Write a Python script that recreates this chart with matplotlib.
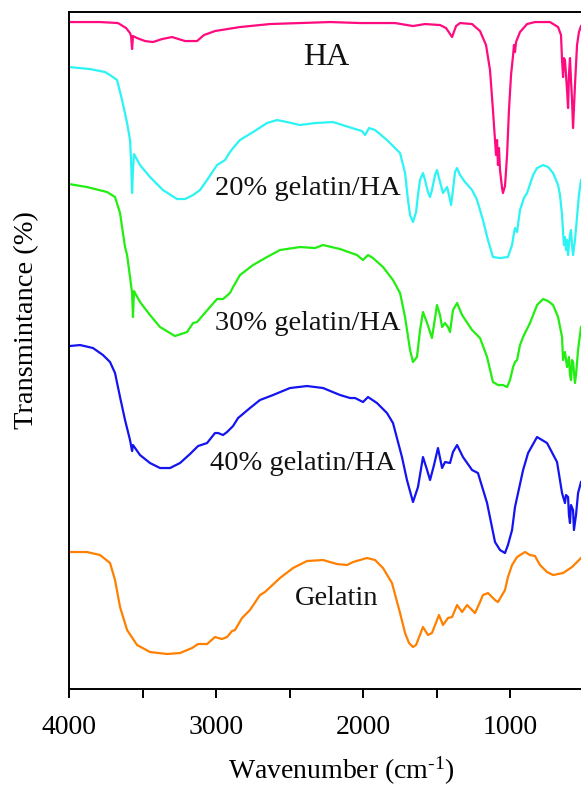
import matplotlib
matplotlib.use("Agg")
import matplotlib.pyplot as plt
from matplotlib.ticker import MultipleLocator

plt.rcParams["font.family"] = "Liberation Serif"
plt.rcParams["mathtext.fontset"] = "custom"
plt.rcParams["mathtext.rm"] = "Liberation Serif"
plt.rcParams["mathtext.it"] = "Liberation Serif:italic"

# FTIR spectra, wavenumber (cm-1) vs transmittance (arbitrary, stacked)
ha_wn = [4000, 3789, 3667, 3612, 3585, 3578, 3571, 3565, 3537, 3483, 3429, 3367, 3299,
         3211, 3129, 3082, 3007, 2837, 2633, 2429, 2224, 2020, 1782, 1660, 1578, 1476,
         1435, 1394, 1367, 1340, 1258, 1204, 1163, 1136, 1116, 1102, 1095, 1088, 1082,
         1075, 1068, 1054, 1048, 1034, 1020, 1007, 993, 979, 973, 966, 959, 932, 884,
         830, 728, 673, 653, 646, 639, 633, 626, 619, 612, 605, 599, 592, 585, 578, 571,
         558, 544, 531, 517]
ha_t = [667, 667, 666, 661, 656, 653, 640, 653, 651, 648, 647, 650, 652,
        648, 648, 654, 658, 662, 665, 666, 667, 666, 666, 663, 665, 664,
        661, 652, 663, 666, 665, 658, 644, 619, 579, 549, 534, 549, 524,
        541, 519, 501, 496, 503, 534, 579, 614, 634, 644, 637, 647, 657, 665,
        667, 667, 662, 654, 629, 612, 631, 629, 614, 599, 581, 614, 631, 609, 589, 561,
        604, 644, 657, 663]

g20_wn = [4000, 3857, 3755, 3721, 3673, 3639, 3605, 3585, 3578, 3571, 3565, 3558, 3517,
          3449, 3361, 3265, 3211, 3156, 3109, 3061, 2993, 2939, 2905, 2884, 2837, 2748,
          2653, 2585, 2517, 2429, 2326, 2204, 2075, 2007, 1986, 1959, 1918, 1837, 1748,
          1714, 1694, 1680, 1660, 1639, 1626, 1612, 1592, 1578, 1558, 1544, 1531, 1510,
          1497, 1483, 1456, 1442, 1428, 1415, 1401, 1388, 1374, 1360, 1340, 1306, 1258,
          1224, 1184, 1150, 1116, 1068, 1014, 986, 973, 966, 952, 932, 905, 884, 843,
          816, 775, 741, 707, 673, 660, 646, 639, 633, 626, 619, 612, 605, 599, 592,
          585, 578, 571, 558, 544, 531, 517]
g20_t = [622, 620, 617, 614, 609, 589, 566, 549, 529, 496, 519, 535, 524,
         512, 499, 490, 490, 494, 499, 509, 524, 529, 537, 541, 549, 557,
         566, 569, 567, 564, 566, 567, 561, 558, 554, 561, 559, 549, 536,
         516, 489, 474, 467, 477, 494, 509, 516, 509, 497, 492, 499, 514,
         519, 511, 496, 499, 502, 494, 484, 499, 517, 521, 514, 507, 499,
         489, 469, 449, 432, 431, 432, 444, 456, 461, 457, 479, 491, 496, 514,
         521, 524, 522, 516, 504, 494, 474, 457, 444, 452, 439, 449, 434, 444, 454,
         459, 444, 434, 449, 472, 494, 509]

g30_wn = [4000, 3878, 3741, 3687, 3653, 3619, 3605, 3585, 3571, 3565, 3558, 3517, 3449,
          3381, 3279, 3197, 3156, 3129, 3041, 2993, 2952, 2905, 2884, 2837, 2748, 2653,
          2565, 2429, 2326, 2272, 2156, 2041, 2000, 1966, 1932, 1864, 1796, 1748, 1714,
          1680, 1660, 1633, 1612, 1592, 1564, 1531, 1510, 1497, 1476, 1462, 1442, 1422,
          1408, 1388, 1360, 1326, 1258, 1204, 1156, 1116, 1082, 1048, 1020, 1000, 979,
          966, 952, 932, 911, 864, 816, 775, 741, 707, 673, 646, 639, 626, 612, 599,
          592, 585, 578, 571, 558, 551, 537, 517]
g30_t = [505, 502, 497, 492, 476, 442, 434, 412, 396, 372, 398, 387, 374,
         362, 353, 357, 366, 367, 382, 390, 390, 396, 402, 414, 424, 432,
         439, 442, 441, 444, 440, 434, 429, 434, 431, 422, 409, 396, 372,
         339, 327, 332, 359, 377, 366, 351, 371, 384, 374, 362, 366, 362,
         357, 379, 386, 374, 359, 351, 332, 307, 304, 304, 302, 309, 322,
         327, 329, 344, 352, 366, 384, 390, 388, 384, 372, 352, 329, 337, 322, 332,
         314, 309, 329, 327, 306, 314, 339, 362]

g40_wn = [4000, 3993, 3925, 3837, 3769, 3721, 3687, 3653, 3619, 3585, 3571, 3565, 3517,
          3449, 3381, 3313, 3245, 3177, 3122, 3061, 3007, 2986, 2952, 2925, 2884, 2850,
          2769, 2701, 2612, 2497, 2381, 2272, 2156, 2088, 2054, 2000, 1966, 1905, 1837,
          1796, 1735, 1701, 1660, 1626, 1592, 1564, 1544, 1517, 1490, 1462, 1442, 1408,
          1388, 1360, 1320, 1258, 1218, 1156, 1102, 1068, 1034, 1014, 986, 966, 911,
          877, 816, 748, 680, 646, 626, 619, 605, 599, 592, 585, 571, 565, 551, 537, 517]
g40_t = [344, 343, 344, 341, 334, 327, 316, 292, 269, 249, 238, 244, 234,
         226, 221, 221, 226, 235, 243, 246, 256, 256, 254, 257, 263, 271,
         281, 289, 294, 301, 303, 301, 294, 291, 291, 287, 292, 286, 276,
         266, 232, 209, 187, 202, 232, 219, 209, 224, 241, 221, 227, 226,
         237, 244, 232, 219, 216, 186, 147, 139, 136, 144, 159, 182, 219,
         236, 252, 246, 227, 196, 186, 194, 192, 174, 166, 184, 179, 159, 174, 196, 207]

gel_wn = [4000, 3878, 3789, 3721, 3687, 3653, 3605, 3537, 3449, 3333, 3245, 3163, 3122,
          3061, 3007, 2959, 2925, 2891, 2871, 2823, 2769, 2701, 2667, 2565, 2476, 2381,
          2272, 2177, 2109, 2068, 1973, 1918, 1864, 1803, 1748, 1714, 1687, 1660, 1639,
          1626, 1592, 1558, 1531, 1483, 1456, 1422, 1394, 1360, 1326, 1292, 1238, 1204,
          1184, 1150, 1102, 1082, 1034, 1014, 986, 952, 898, 864, 830, 796, 748, 707,
          639, 578, 517]
gel_t = [137, 137, 134, 126, 109, 82, 59, 44, 37, 35, 36, 41, 45,
         45, 52, 50, 52, 58, 59, 71, 79, 94, 97, 111, 121, 128,
         129, 125, 124, 127, 131, 129, 121, 106, 76, 56, 46, 42, 44,
         49, 62, 54, 56, 74, 64, 71, 72, 84, 77, 84, 76, 87,
         94, 96, 89, 87, 99, 112, 124, 132, 137, 134, 133, 124, 117, 114,
         116, 122, 131]

series = [
    (ha_wn, ha_t, "#ff0a7f"),
    (g20_wn, g20_t, "#2cf4f4"),
    (g30_wn, g30_t, "#22ee11"),
    (g40_wn, g40_t, "#1414f0"),
    (gel_wn, gel_t, "#ff8000"),
]

labels = ["HA", "20% gelatin/HA", "30% gelatin/HA", "40% gelatin/HA", "Gelatin"]
label_wn = [2408, 3007, 3007, 3041, 2463]
label_t = [624, 494, 359, 219, 84]
label_size = [23, 20.5, 20.5, 20.5, 20.5]

fig = plt.figure(figsize=(5.81, 7.87), dpi=100)
ax = fig.add_axes([0.1188, 0.1245, 0.8855, 0.8602])

for wn, t, color in series:
    ax.plot(wn, t, color=color, lw=1.6)

for text, x, y, size in zip(labels, label_wn, label_t, label_size):
    ax.text(x, y, text, fontsize=size, ha="left", va="baseline", color="#111111")

ax.set_xlim(4000, 500)
ax.set_ylim(0, 677)
ax.set_xticks([4000, 3000, 2000, 1000])
ax.xaxis.set_minor_locator(MultipleLocator(500))
ax.tick_params(axis="x", which="both", direction="out", length=6.5, width=1.4,
               labelsize=20, pad=12)
ax.set_yticks([])
for side in ["left", "top", "bottom"]:
    ax.spines[side].set_linewidth(1.4)
ax.spines["right"].set_visible(False)

ax.set_xlabel(r"Wavenumber (cm$^{\text{-}1}$)", fontsize=20)
ax.xaxis.set_label_coords(0.529, -0.097)
ax.set_ylabel("Transmintance (%)", fontsize=20.5)
ax.yaxis.set_label_coords(-0.058, 0.545)

fig.savefig("out.png", dpi=100)
